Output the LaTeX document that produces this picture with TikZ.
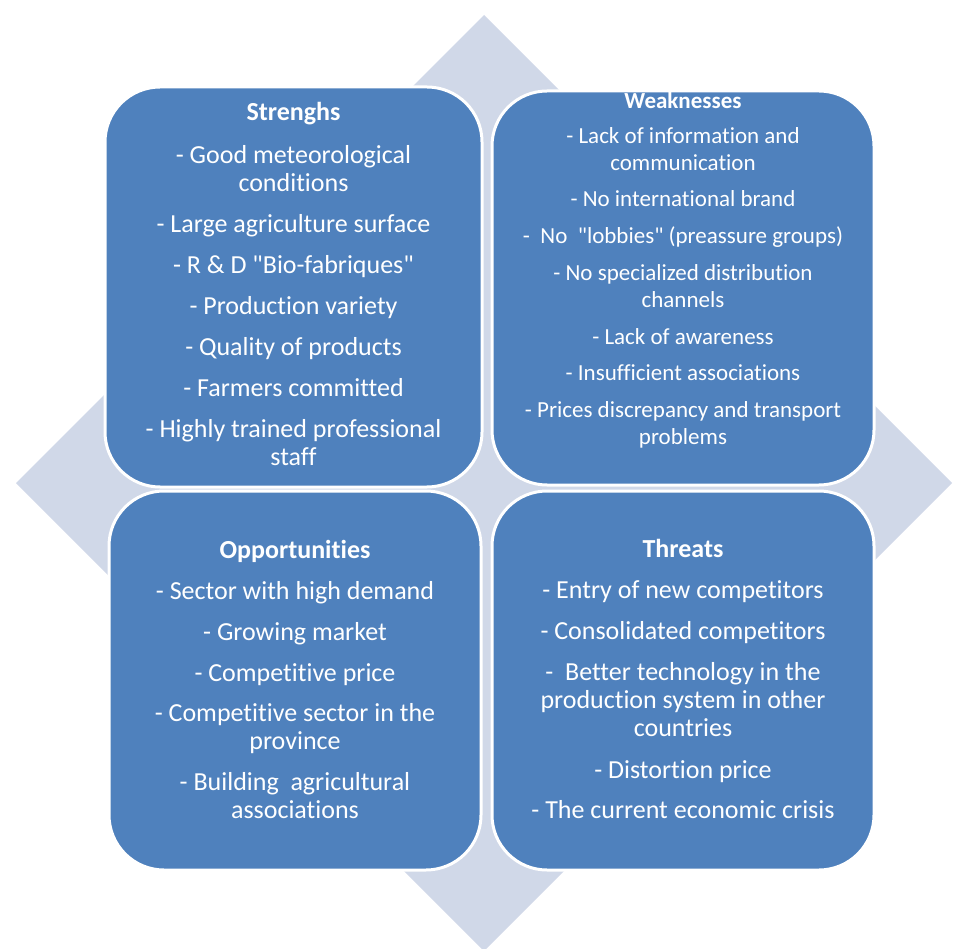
\documentclass[tikz,border=0pt]{standalone}
\usepackage{fontspec}
\setmainfont{Carlito}[Ligatures={TeXOff,CommonOff}]
\usetikzlibrary{positioning}
\definecolor{swotblue}{RGB}{79,129,189}
\definecolor{swotback}{RGB}{208,216,232}

\begin{document}
\begin{tikzpicture}[x=1pt,y=-1pt,
	quadrant/.style={draw=white,line width=3pt,fill=swotblue,rounded corners=55pt,inner sep=0pt},
	quadtext/.style={text=white,align=center,inner sep=0pt,font=\fontsize{26}{28}\selectfont},
	smalltext/.style={quadtext,font=\fontsize{23}{27}\selectfont}]
	\useasboundingbox (0,0) rectangle (953,949);
	% diamond behind the four boxes
	\fill[swotback] (484,15) -- (952,483) -- (484,951) -- (16,483) -- cycle;
	\node[quadrant,minimum width=377pt,minimum height=400pt] (str) at (293.5,287) {};
	\node[quadrant,minimum width=382pt,minimum height=394pt] (weak) at (683,288) {};
	\node[quadrant,minimum width=372pt,minimum height=379pt] (opp) at (295,680.5) {};
	\node[quadrant,minimum width=382pt,minimum height=379pt] (thr) at (683,680.5) {};
	% lists
	\node[quadtext] (strtext) at ([yshift=3pt]str.center) {\textbf{Strenghs}\\[15pt]
		- Good meteorological\\ conditions\\[13pt]
		- Large agriculture surface\\[13pt]
		- R \& D "Bio-fabriques"\\[13pt]
		- Production variety\\[13pt]
		- Quality of products\\[13pt]
		- Farmers committed\\[13pt]
		- Highly trained professional\\ staff};
	\node[smalltext] (weaktext) at ([yshift=18pt]weak.center) {\textbf{Weaknesses}\\[8pt]
		- Lack of information and\\ communication\\[9pt]
		- No international brand\\[10pt]
		-\ \ No\ \ "lobbies" (preassure groups)\\[10pt]
		- No specialized distribution\\ channels\\[10pt]
		- Lack of awareness\\[9pt]
		- Insufficient associations\\[10pt]
		- Prices discrepancy and transport\\ problems};
	\node[quadtext] (opptext) at ([yshift=1.5pt]opp.center) {\textbf{Opportunities}\\[13pt]
		- Sector with high demand\\[13pt]
		- Growing market\\[13pt]
		- Competitive price\\[12pt]
		- Competitive sector in the\\ province\\[13pt]
		- Building\ \ agricultural\\ associations};
	\node[quadtext] (thrtext) at ([yshift=1.5pt]thr.center) {\textbf{Threats}\\[13pt]
		- Entry of new competitors\\[13pt]
		- Consolidated competitors\\[13pt]
		-\ \ Better technology in the\\ production system in other\\ countries\\[14pt]
		- Distortion price\\[12pt]
		- The current economic crisis};
\end{tikzpicture}
\end{document}
